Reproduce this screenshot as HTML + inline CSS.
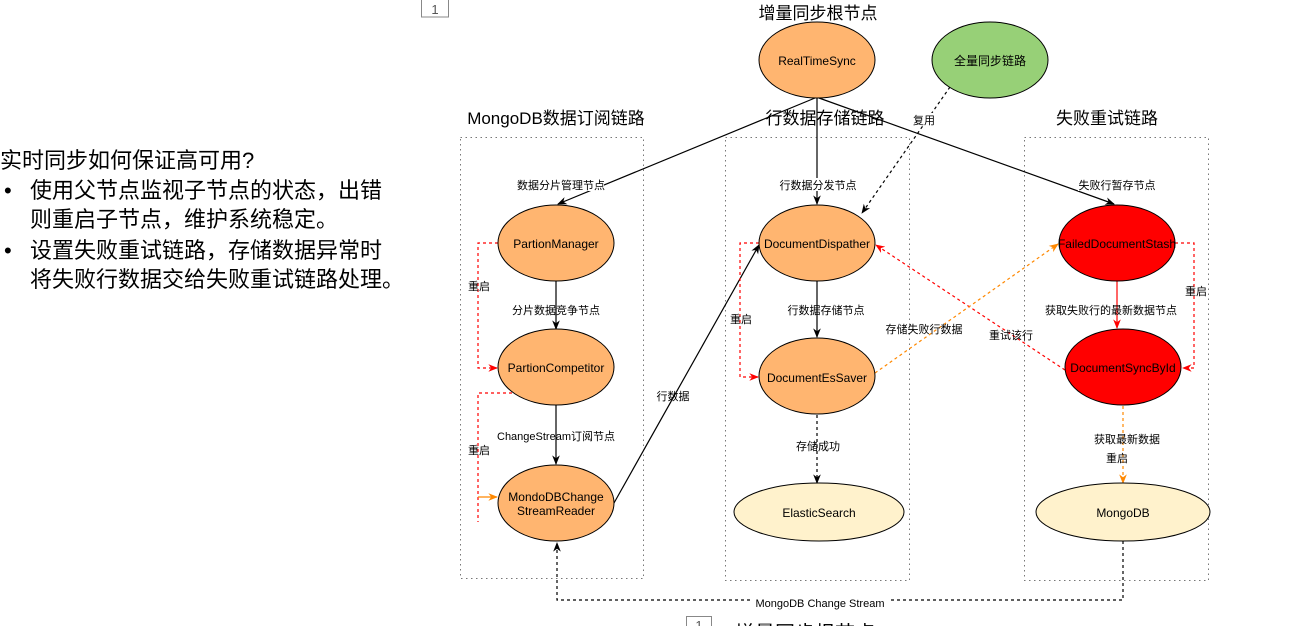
<!DOCTYPE html>
<html><head><meta charset="utf-8"><style>
html,body{margin:0;padding:0;background:#fff;width:1298px;height:626px;overflow:hidden}
svg{display:block}
text{font-family:"Liberation Sans","Noto Sans CJK SC",sans-serif;fill:#000}
.s{font-size:11px}
.t{font-size:17px}
.n{font-size:12px}
</style></head><body>
<svg width="1298" height="626" viewBox="0 0 1298 626" xmlns="http://www.w3.org/2000/svg">
<defs>
<marker id="ab" viewBox="0 0 10 10" refX="9" refY="5" markerWidth="8" markerHeight="8" orient="auto"><path d="M0,1 L10,5 L0,9 L3,5z" fill="#000"/></marker>
<marker id="ar" viewBox="0 0 10 10" refX="9" refY="5" markerWidth="8" markerHeight="8" orient="auto"><path d="M0,1 L10,5 L0,9 L3,5z" fill="#f00"/></marker>
<marker id="ao" viewBox="0 0 10 10" refX="9" refY="5" markerWidth="8" markerHeight="8" orient="auto"><path d="M0,1 L10,5 L0,9 L3,5z" fill="#f80"/></marker>
</defs>
<!-- left text -->
<text x="0" y="168" style="font-size:22px">实时同步如何保证高可用?</text>
<text x="4" y="198" style="font-size:22px">•</text>
<text x="30" y="198" style="font-size:22px">使用父节点监视子节点的状态，出错</text>
<text x="30" y="227" style="font-size:22px">则重启子节点，维护系统稳定。</text>
<text x="4" y="258" style="font-size:22px">•</text>
<text x="30" y="258" style="font-size:22px">设置失败重试链路，存储数据异常时</text>
<text x="30" y="287" style="font-size:22px">将失败行数据交给失败重试链路处理。</text>
<!-- small boxes -->
<rect x="421.5" y="-1" width="27" height="18" fill="#fff" stroke="#888"/>
<text x="435" y="14" text-anchor="middle" style="font-size:13px;fill:#555">1</text>
<rect x="686.5" y="616.5" width="25" height="14" fill="#fff" stroke="#888"/>
<text x="699" y="630" text-anchor="middle" style="font-size:13px;fill:#555">1</text>
<text x="735" y="640" style="font-size:20px">增量同步根节点</text>
<!-- boxes -->
<g fill="none" stroke="#777" stroke-dasharray="1.5,3.5">
<rect x="460.5" y="137.5" width="183" height="441"/>
<rect x="725.5" y="137.5" width="184" height="443"/>
<rect x="1024.5" y="137.5" width="184" height="443"/>
</g>
<text x="556" y="124" text-anchor="middle" class="t">MongoDB数据订阅链路</text>
<text x="825" y="124" text-anchor="middle" class="t">行数据存储链路</text>
<text x="1107" y="124" text-anchor="middle" class="t">失败重试链路</text>
<text x="818" y="19" text-anchor="middle" class="t">增量同步根节点</text>
<!-- edges -->
<g fill="none" stroke="#000" stroke-width="1.2">
<line x1="815" y1="98" x2="558" y2="204" marker-end="url(#ab)"/>
<line x1="817" y1="98" x2="817" y2="204" marker-end="url(#ab)"/>
<line x1="819" y1="98" x2="1114" y2="204" marker-end="url(#ab)"/>
<line x1="556" y1="281" x2="556" y2="329" marker-end="url(#ab)"/>
<line x1="556" y1="405" x2="556" y2="464" marker-end="url(#ab)"/>
<line x1="817" y1="281" x2="817" y2="337" marker-end="url(#ab)"/>
<path d="M614,503 L759,245" marker-end="url(#ab)"/>
<path d="M950,87 L862,213" stroke-dasharray="3,3" marker-end="url(#ab)"/>
<path d="M817,415 L817,483" stroke-dasharray="3,3" marker-end="url(#ab)"/>
<path d="M1123,541 L1123,600 L557,600 L557,543" stroke-dasharray="3,3" marker-end="url(#ab)"/>
</g>
<g fill="none" stroke="#f00" stroke-width="1.2" stroke-dasharray="3,3">
<path d="M498,243 L478,243 L478,368 L497,368" marker-end="url(#ar)"/>
<path d="M759,243 L740,243 L740,377 L758,377" marker-end="url(#ar)"/>
<path d="M1175,243 L1194,243 L1194,368 L1183,368" marker-end="url(#ar)"/>
<path d="M1065,370 L876,245" marker-end="url(#ar)"/>
<path d="M512,393 L478,393 L478,522"/>
</g>
<path d="M478,497 L497,497" stroke="#f80" stroke-width="1.2" fill="none" marker-end="url(#ao)"/>
<line x1="1117" y1="281" x2="1117" y2="328" stroke="#f00" stroke-width="1.2" marker-end="url(#ar)"/>
<g fill="none" stroke="#f80" stroke-width="1.2" stroke-dasharray="3,3">
<path d="M875,373 L1058,244" marker-end="url(#ao)"/>
<path d="M1123,406 L1123,483" marker-end="url(#ao)"/>
</g>
<!-- nodes -->
<g stroke="#000" stroke-width="1">
<ellipse cx="817" cy="60" rx="58" ry="38" fill="#ffb570"/>
<ellipse cx="990" cy="60" rx="58" ry="38" fill="#97d077"/>
<ellipse cx="556" cy="243" rx="58" ry="38" fill="#ffb570"/>
<ellipse cx="556" cy="367" rx="58" ry="38" fill="#ffb570"/>
<ellipse cx="556" cy="503" rx="58" ry="38" fill="#ffb570"/>
<ellipse cx="817" cy="243" rx="58" ry="38" fill="#ffb570"/>
<ellipse cx="817" cy="376" rx="58" ry="38" fill="#ffb570"/>
<ellipse cx="819" cy="512" rx="85" ry="29" fill="#fff2cc"/>
<ellipse cx="1117" cy="243" rx="58" ry="38" fill="#f00"/>
<ellipse cx="1123" cy="367" rx="58" ry="38" fill="#f00"/>
<ellipse cx="1123" cy="512" rx="87" ry="29" fill="#fff2cc"/>
</g>
<g class="n" text-anchor="middle">
<text x="817" y="65" class="n">RealTimeSync</text>
<text x="990" y="65" class="n">全量同步链路</text>
<text x="556" y="248" class="n">PartionManager</text>
<text x="556" y="372" class="n">PartionCompetitor</text>
<text x="556" y="501" class="n">MondoDBChange</text>
<text x="556" y="515" class="n">StreamReader</text>
<text x="817" y="248" class="n">DocumentDispather</text>
<text x="817" y="382" class="n">DocumentEsSaver</text>
<text x="819" y="517" class="n">ElasticSearch</text>
<text x="1117" y="248" class="n">FailedDocumentStash</text>
<text x="1123" y="372" class="n">DocumentSyncById</text>
<text x="1123" y="517" class="n">MongoDB</text>
</g>
<!-- labels -->
<g class="s" text-anchor="middle">
<rect x="520" y="178" width="84" height="13" fill="#fff"/>
<text x="561" y="189" class="s">数据分片管理节点</text>
<rect x="780" y="178" width="76" height="13" fill="#fff"/>
<text x="818" y="189" class="s">行数据分发节点</text>
<rect x="1078" y="178" width="78" height="13" fill="#fff"/>
<text x="1117" y="189" class="s">失败行暂存节点</text>
<rect x="912" y="113" width="24" height="13" fill="#fff"/>
<text x="924" y="124" class="s">复用</text>
<text x="556" y="314" class="s">分片数据竞争节点</text>
<text x="556" y="440" class="s">ChangeStream订阅节点</text>
<text x="479" y="290" class="s">重启</text>
<text x="479" y="454" class="s">重启</text>
<text x="673" y="400" class="s">行数据</text>
<text x="826" y="314" class="s">行数据存储节点</text>
<text x="741" y="323" class="s">重启</text>
<text x="818" y="450" class="s">存储成功</text>
<text x="924" y="333" class="s">存储失败行数据</text>
<text x="1011" y="339" class="s">重试该行</text>
<text x="1111" y="314" class="s">获取失败行的最新数据节点</text>
<text x="1196" y="295" class="s">重启</text>
<text x="1127" y="443" class="s">获取最新数据</text>
<text x="1117" y="462" class="s">重启</text>
<rect x="752" y="595" width="136" height="13" fill="#fff"/>
<text x="820" y="607" class="s">MongoDB Change Stream</text>
</g>
</svg>
</body></html>
